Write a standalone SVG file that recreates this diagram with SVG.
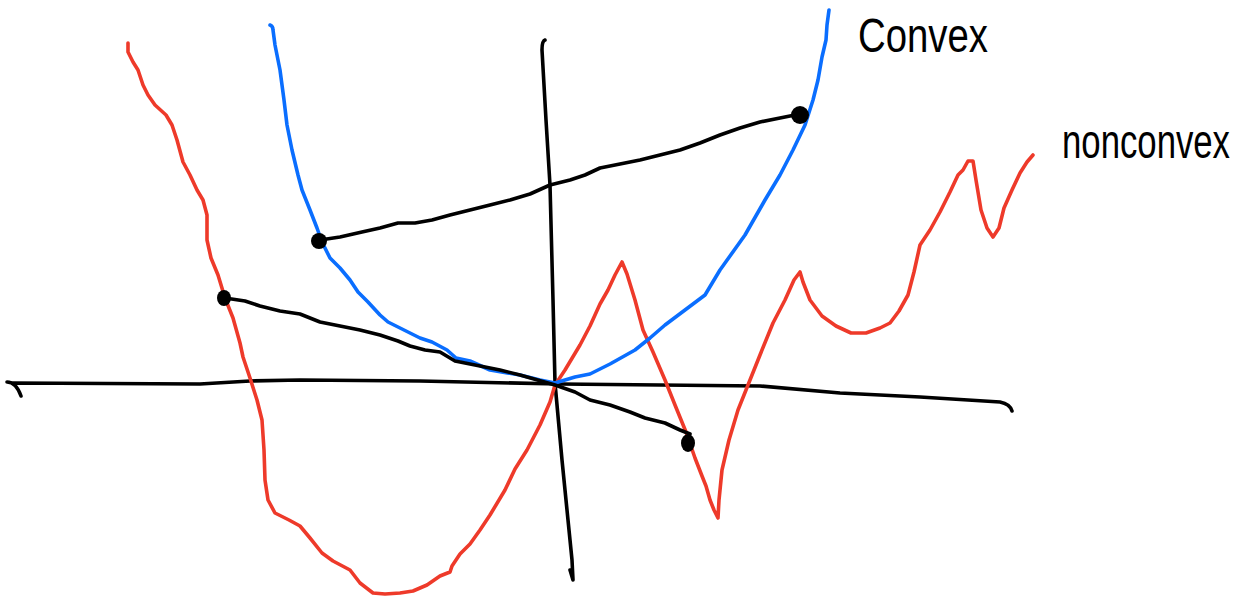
<svg xmlns="http://www.w3.org/2000/svg" width="1248" height="601" viewBox="0 0 1248 601">
<style>
.s{fill:none;stroke-width:3.6;stroke-linecap:round;stroke-linejoin:round}
.k{stroke:#000}
.r{stroke:#EE3A2A}
.b{stroke:#0A6EFF}
.dot{fill:#000}
.t{font-family:"Liberation Sans",Arial,sans-serif;fill:#000}
</style>
<rect width="1248" height="601" fill="#fff"/>
<g id="axes">
<path class="s k" d="M7,382 Q16,382 21,396 M12,383 L200,384 L250,381 L300,380 L420,381 L560,384 L760,386 L840,393 L920,397 L1000,402 Q1010,404 1012,411"/>
<path class="s k" d="M545,40 Q542,41 542,50 L546,120 L550,185 L553,300 L555,383 L562,460 L568,520 L572,560 L573,580 L570,570"/>
</g>
<g id="red-curve">
<path class="s r" d="M128,43 L128,52 L133,62 L138,70 L143,85 L148,95 L155,105 L166,115 L172,125 L177,140 L183,162 L190,175 L197,190 L203,200 L207,215 L207,240 L211,258 L218,275 L225,298 L233,318 L240,343 L243,357 L250,378 L257,400 L262,420 L264,450 L265,480 L268,500 L275,513 L289,520 L300,526 L310,538 L322,553 L333,561 L350,570 L360,583 L373,593 L385,594 L400,593 L413,591 L427,585 L440,576 L450,572 L452,566 L460,554 L470,544 L480,530 L490,515 L505,490 L515,469 L527,450 L540,425 L550,402 L555,385 L565,370 L580,345 L590,326 L600,304 L608,290 L615,275 L622,262 L627,274 L635,300 L643,330 L653,352 L665,380 L675,405 L686,432 L695,458 L702,476 L706,486 L710,500 L714,510 L718,518 L719,500 L722,470 L729,440 L738,410 L748,385 L760,355 L773,323 L785,300 L794,280 L800,272 L803,282 L810,300 L822,316 L836,326 L851,333 L866,333 L880,328 L890,323 L899,311 L908,295 L914,272 L920,245 L930,230 L940,212 L950,192 L958,175 L963,170 L968,161 L973,161 L976,180 L981,210 L987,228 L993,237 L999,228 L1004,208 L1012,190 L1020,173 L1027,162 L1033,155"/>
</g>
<g id="blue-curve">
<path class="s b" d="M270,25 Q273,26 273,30 L275,45 L280,70 L284,100 L287,125 L292,150 L298,175 L302,190 L310,210 L317,228 L322,242 L330,258 L340,268 L350,280 L358,292 L368,302 L380,315 L388,322 L398,327 L408,332 L420,338 L432,342 L447,350 L456,358 L470,361 L490,370 L520,375 L540,380 L555,383 L575,377 L590,374 L610,364 L635,350 L650,338 L665,325 L685,310 L705,295 L720,270 L745,235 L765,200 L780,175 L793,150 L805,125 L813,100 L818,80 L822,57 L826,40 L827,25 L829,10"/>
</g>
<g id="connectors">
<path class="s k" d="M320,240 L340,237 L362,232 L380,228 L398,223 L415,223 L432,220 L450,215 L470,210 L490,205 L510,200 L530,194 L550,185 L570,180 L585,175 L600,168 L620,164 L640,160 L660,155 L680,150 L700,143 L720,135 L740,128 L760,122 L780,118 L800,114"/>
<path class="s k" d="M225,298 L245,301 L260,306 L280,311 L300,314 L320,322 L340,326 L360,330 L380,335 L398,341 L410,346 L425,350 L440,352 L455,361 L480,366 L500,370 L520,375 L555,385 L575,392 L590,400 L610,405 L630,412 L645,418 L665,423 L680,430 L690,434"/>
</g>
<g id="points">
<ellipse class="dot" cx="319" cy="241" rx="8" ry="8"/>
<ellipse class="dot" cx="800" cy="115" rx="9" ry="9"/>
<ellipse class="dot" cx="224" cy="298" rx="7" ry="8"/>
<ellipse class="dot" cx="688" cy="443" rx="7" ry="9"/>
</g>
<g id="labels">
<text class="t" transform="translate(858,52) scale(1,1.2)" font-size="40" textLength="130" lengthAdjust="spacingAndGlyphs">Convex</text>
<text class="t" transform="translate(1062,158) scale(1,1.35)" font-size="35" textLength="168" lengthAdjust="spacingAndGlyphs">nonconvex</text>
</g>
</svg>
